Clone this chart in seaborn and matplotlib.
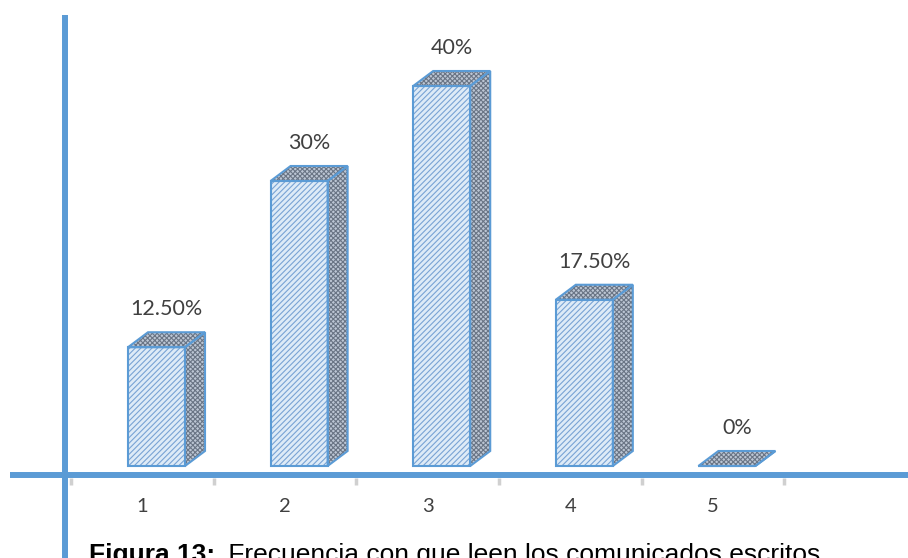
import matplotlib
matplotlib.use("Agg")
import matplotlib.pyplot as plt
import seaborn as sns
import pandas as pd
import numpy as np
from matplotlib.patches import Polygon

categories = ["1", "2", "3", "4", "5"]
values = [12.5, 30, 40, 17.5, 0]
value_labels = ["12.50%", "30%", "40%", "17.50%", "0%"]
caption_bold = "Figura 13:"
caption_text = "Frecuencia con que leen los comunicados escritos"

sns.set_theme(style="white")
plt.rcParams['font.family'] = ['Lato', 'DejaVu Sans']
plt.rcParams['hatch.linewidth'] = 0.8

BLUE = "#5B9BD5"
fig = plt.figure(figsize=(9.08, 5.58), dpi=100)
ax = fig.add_axes([0, 0, 1, 1])

PX_CAT = 142.6
PX_PCT = 9.5
X0PX = 156.5   # centre of the first bar's front face
Y0PX = 466.0

def px_x(p):
    return (p - X0PX) / PX_CAT

def px_y(p):
    return (Y0PX - p) / PX_PCT

df = pd.DataFrame({"cat": categories, "val": values})
sns.barplot(data=df, x="cat", y="val", width=0.4, color="#DEEBF7",
            saturation=1, edgecolor="#79A3D4", linewidth=0, hatch="//////", ax=ax, zorder=3)
for patch in ax.patches:
    ax.add_patch(plt.Rectangle((patch.get_x(), patch.get_y()), patch.get_width(), patch.get_height(),
                               fill=False, edgecolor=BLUE, linewidth=1.5, zorder=4))

dx = 20 / PX_CAT
dy = 15 / PX_PCT
lab_shift = 14 / PX_CAT  # category labels sit left of the bar centre

for patch, lab in zip(ax.patches[:len(values)], value_labels):
    x0 = patch.get_x()
    w = patch.get_width()
    h = patch.get_height()
    side = [(x0 + w, 0), (x0 + w + dx, dy), (x0 + w + dx, h + dy), (x0 + w, h)]
    top = [(x0, h), (x0 + dx, h + dy), (x0 + w + dx, h + dy), (x0 + w, h)]
    for poly, hatch in ((side, "xxxxxxx"), (top, "xxxxxxx")):
        ax.add_patch(Polygon(poly, closed=True, facecolor="#bcc6d4", edgecolor="#6a7585",
                             hatch=hatch, linewidth=0, zorder=2))
        ax.add_patch(Polygon(poly, closed=True, fill=False, edgecolor=BLUE,
                             linewidth=1.5, zorder=4))
    ax.text(x0 + w / 2 + dx / 2, h + dy + 2.4, lab, ha="center", va="center",
            fontsize=15.5, color="#404040")

# axis lines
ax.plot([px_x(10), px_x(908)], [px_y(475), px_y(475)], color=BLUE, lw=4.3,
        solid_capstyle="butt", zorder=5, clip_on=False)
ax.plot([px_x(65), px_x(65)], [px_y(15), px_y(560)], color=BLUE, lw=4.3,
        solid_capstyle="butt", zorder=5, clip_on=False)

# tick marks at category boundaries
bounds = np.arange(len(categories) + 1) - 0.5 - lab_shift
ax.vlines(bounds, px_y(478), px_y(485), color="#D0D0D0", lw=2.5, zorder=1)

for i, c in enumerate(categories):
    ax.text(i - lab_shift, px_y(507), c, ha="center", va="center", fontsize=14.5, color="#404040")

t1 = ax.text(px_x(89), px_y(562), caption_bold, family="Liberation Sans", fontweight="bold",
             fontsize=19, color="black", ha="left", va="baseline")
ax.annotate(" " + caption_text, xy=(1, 0), xycoords=t1, xytext=(4, 0), textcoords="offset points",
            family="Liberation Sans", fontsize=19, color="black", ha="left", va="bottom")

ax.set_xlim(px_x(0), px_x(908))
ax.set_ylim(px_y(558), px_y(0))
ax.axis("off")

fig.savefig("out.png", dpi=100)
